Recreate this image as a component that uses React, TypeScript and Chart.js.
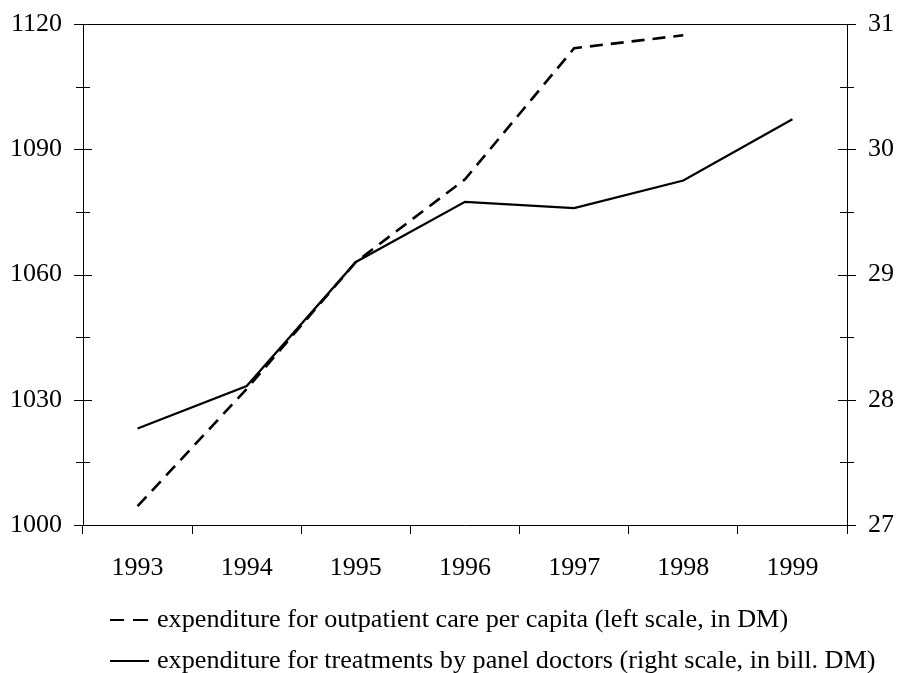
import React, { useEffect, useRef } from "react";
import { Chart, registerables } from "chart.js";

Chart.register(...registerables);

const years = ["1993", "1994", "1995", "1996", "1997", "1998", "1999"];
const outpatientPerCapita = [1004.5, 1032.6, 1063, 1082.8, 1114.2, 1117.3, null];
const panelDoctors = [27.77, 28.11, 29.1, 29.58, 29.53, 29.75, 30.24];
const leftTickLabels = [1000, 1030, 1060, 1090, 1120];
const rightTickLabels = [27, 28, 29, 30, 31];
const legendLabels = [
  "expenditure for outpatient care per capita (left scale, in DM)",
  "expenditure for treatments by panel doctors (right scale, in bill. DM)",
];

const FONT_FAMILY = "'Liberation Serif', 'Times New Roman', serif";

const isLabelled = (id: string, v: number) =>
  (id === "y" ? leftTickLabels : rightTickLabels).some((l) => Math.abs(l - v) < 1e-6);

const axisTicksPlugin = {
  id: "axisTicks",
  afterDraw(chart: any) {
    const ctx = chart.ctx;
    const ca = chart.chartArea;
    ctx.save();
    ctx.strokeStyle = "#000";
    ctx.lineWidth = 1;
    // top border line
    const ty = Math.round(ca.top) + 0.5;
    ctx.beginPath();
    ctx.moveTo(ca.left - 9, ty);
    ctx.lineTo(ca.right + 9, ty);
    ctx.stroke();
    ["y", "y1"].forEach((id) => {
      const s = chart.scales[id];
      const x = id === "y" ? ca.left : ca.right;
      s.ticks.forEach((t: any) => {
        const v = t.value;
        const h = isLabelled(id, v) ? 9 : 7;
        const py = Math.round(s.getPixelForValue(v)) + 0.5;
        ctx.beginPath();
        ctx.moveTo(x - h, py);
        ctx.lineTo(x + h, py);
        ctx.stroke();
      });
    });
    // legend
    const lx = 110;
    const tx = 157;
    const rows = [620, 661];
    ctx.lineWidth = 2.2;
    ctx.beginPath();
    ctx.moveTo(lx, rows[0]);
    ctx.lineTo(lx + 14, rows[0]);
    ctx.moveTo(lx + 23, rows[0]);
    ctx.lineTo(lx + 38, rows[0]);
    ctx.stroke();
    ctx.beginPath();
    ctx.moveTo(lx, rows[1]);
    ctx.lineTo(lx + 39, rows[1]);
    ctx.stroke();
    ctx.fillStyle = "#000";
    ctx.font = `26.2px ${FONT_FAMILY}`;
    ctx.textBaseline = "alphabetic";
    ctx.textAlign = "left";
    ctx.fillText(legendLabels[0], tx, 627);
    ctx.fillText(legendLabels[1], tx, 668);
    ctx.restore();
  },
};

export default function App() {
  const ref = useRef<HTMLCanvasElement | null>(null);
  useEffect(() => {
    if (!ref.current) return;
    const tickFont = { family: FONT_FAMILY, size: 26 };
    const chart = new Chart(ref.current, {
      type: "line",
      data: {
        labels: years,
        datasets: [
          {
            label: legendLabels[0],
            data: outpatientPerCapita,
            yAxisID: "y",
            borderColor: "#000",
            borderWidth: 2.6,
            borderDash: [13, 8],
            pointRadius: 0,
            fill: false,
            tension: 0,
            spanGaps: false,
          },
          {
            label: legendLabels[1],
            data: panelDoctors,
            yAxisID: "y1",
            borderColor: "#000",
            borderWidth: 2.2,
            pointRadius: 0,
            fill: false,
            tension: 0,
          },
        ],
      },
      options: {
        animation: false,
        responsive: true,
        maintainAspectRatio: false,
        layout: { padding: { top: 24, left: 0, right: 0, bottom: 0 } },
        plugins: {
          legend: { display: false },
          tooltip: { enabled: false },
        },
        scales: {
          x: {
            type: "category",
            offset: true,
            grid: {
              display: true,
              drawOnChartArea: false,
              offset: true,
              tickLength: 9,
              color: "#000",
              lineWidth: 1,
            },
            border: { display: true, color: "#000", width: 1 },
            ticks: { color: "#000", font: tickFont, padding: 19, maxRotation: 0 },
            afterFit: (s: any) => {
              s.height = 148;
              s.paddingLeft = 0;
              s.paddingRight = 0;
            },
          },
          y: {
            type: "linear",
            position: "left",
            min: 1000,
            max: 1120,
            grid: { display: false },
            border: { display: true, color: "#000", width: 1 },
            ticks: {
              stepSize: 15,
              color: "#000",
              font: tickFont,
              padding: 13,
              callback: (v: any) => (isLabelled("y", Number(v)) ? String(v) : ""),
            },
            afterFit: (s: any) => {
              s.width = 83;
              s.paddingTop = 0;
              s.paddingBottom = 0;
            },
          },
          y1: {
            type: "linear",
            position: "right",
            min: 27,
            max: 31,
            grid: { display: false },
            border: { display: true, color: "#000", width: 1 },
            ticks: {
              stepSize: 0.5,
              color: "#000",
              font: tickFont,
              padding: 13,
              callback: (v: any) => (isLabelled("y1", Number(v)) ? String(v) : ""),
            },
            afterFit: (s: any) => {
              s.width = 51;
              s.paddingTop = 0;
              s.paddingBottom = 0;
            },
          },
        },
      },
      plugins: [axisTicksPlugin],
    });
    return () => chart.destroy();
  }, []);
  return (
    <div style={{ position: "fixed", left: 0, top: 0, width: 898, height: 673, background: "#fff" }}>
      <canvas ref={ref} />
    </div>
  );
}
